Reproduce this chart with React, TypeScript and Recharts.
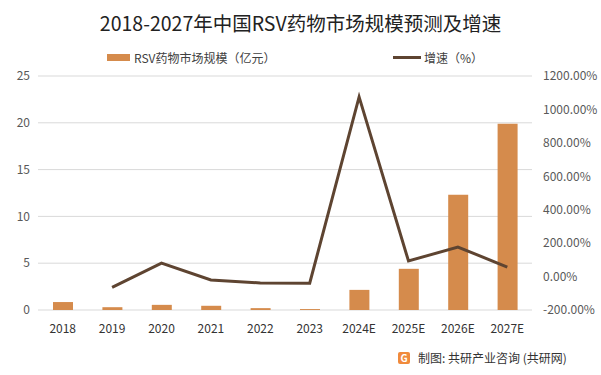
import { ComposedChart, Bar, Line, XAxis, YAxis, CartesianGrid } from "recharts";

const years = ["2018", "2019", "2020", "2021", "2022", "2023", "2024E", "2025E", "2026E", "2027E"];
const marketSize = [0.85, 0.3, 0.55, 0.45, 0.2, 0.1, 2.15, 4.4, 12.3, 19.9];
const growth = [null, -65, 81, -20, -38, -40, 1075, 93, 177, 57];
const leftTicks = [0, 5, 10, 15, 20, 25];
const rightTicks = [-200, 0, 200, 400, 600, 800, 1000, 1200];

const data = years.map((y, i) => ({ year: y, size: marketSize[i], growth: growth[i] }));

const font = "'Noto Sans CJK SC', 'Noto Sans', sans-serif";
const barColor = "#D58B4C";
const lineColor = "#5E4431";

const App = () => {
  return (
    <div style={{ position: "absolute", left: 0, top: 0, width: 601, height: 375, background: "#fff", fontFamily: font }}>
      <div style={{ position: "absolute", top: 8, width: 601, textAlign: "center", fontSize: 19.5, color: "#222" }}>
        2018-2027年中国RSV药物市场规模预测及增速
      </div>
      <div style={{ position: "absolute", top: 49, left: 107, display: "flex", alignItems: "center", fontSize: 12, color: "#404040" }}>
        <span style={{ display: "inline-block", width: 23, height: 7, background: barColor, marginRight: 4 }} />
        RSV药物市场规模（亿元）
      </div>
      <div style={{ position: "absolute", top: 49, left: 393, display: "flex", alignItems: "center", fontSize: 12, color: "#404040" }}>
        <span style={{ display: "inline-block", width: 28, height: 3, background: lineColor, marginRight: 3 }} />
        增速（%）
      </div>
      <ComposedChart width={601} height={375} data={data} margin={{ top: 76, right: 0, bottom: 40, left: 0 }}>
        <CartesianGrid yAxisId="left" vertical={false} stroke="#d9d9d9" />
        <XAxis
          dataKey="year"
          axisLine={false}
          tickLine={false}
          height={25}
          tick={{ fontSize: 12, fill: "#333", fontFamily: font }}
          tickMargin={8}
        />
        <YAxis
          yAxisId="left"
          domain={[0, 25]}
          ticks={leftTicks}
          width={38}
          axisLine={false}
          tickLine={false}
          tick={{ fontSize: 12, fill: "#595959", fontFamily: font }}
        />
        <YAxis
          yAxisId="right"
          orientation="right"
          domain={[-200, 1200]}
          ticks={rightTicks}
          width={69}
          axisLine={false}
          tickLine={false}
          tickFormatter={(v: number) => v.toFixed(2) + "%"}
          tick={{ fontSize: 12, fill: "#595959", fontFamily: font, textAnchor: "start", dx: 3 }}
        />
        <Bar yAxisId="left" dataKey="size" fill={barColor} barSize={20} isAnimationActive={false} />
        <Line
          yAxisId="right"
          dataKey="growth"
          stroke={lineColor}
          strokeWidth={3}
          dot={false}
          type="linear"
          connectNulls={false}
          isAnimationActive={false}
        />
      </ComposedChart>
      <div style={{ position: "absolute", top: 349, left: 398, display: "flex", alignItems: "center", fontSize: 12, color: "#333" }}>
        <span
          style={{
            display: "inline-block",
            width: 12,
            height: 12,
            background: "#F08A3C",
            color: "#fff",
            fontSize: 10,
            lineHeight: "12px",
            textAlign: "center",
            fontWeight: 700,
            marginRight: 8,
            borderRadius: 2,
          }}
        >
          G
        </span>
        制图: 共研产业咨询 (共研网)
      </div>
    </div>
  );
};

export default App;
